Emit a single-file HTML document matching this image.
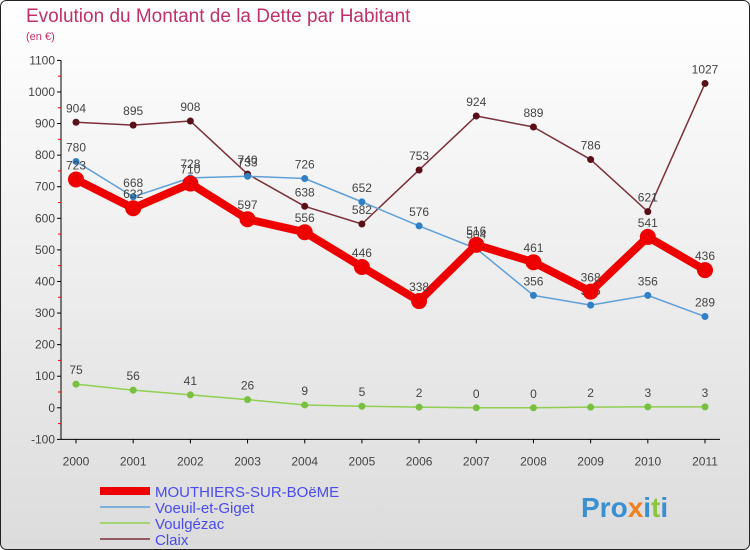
<!DOCTYPE html>
<html><head><meta charset="utf-8"><style>
html,body{margin:0;padding:0;width:750px;height:550px;overflow:hidden;font-family:"Liberation Sans","DejaVu Sans",sans-serif;}
</style></head><body>
<svg id="chart" width="750" height="550" xmlns="http://www.w3.org/2000/svg">
<defs><linearGradient id="bg" x1="0" y1="0" x2="0" y2="1"><stop offset="0" stop-color="#ffffff"/><stop offset="1" stop-color="#dcdcdc"/></linearGradient></defs>
<rect x="0.5" y="0.5" width="749" height="549" rx="6" fill="url(#bg)" stroke="#222"/>
<text x="26" y="22" font-size="19" fill="#c0306a">Evolution du Montant de la Dette par Habitant</text>
<text x="26" y="40" font-size="11" fill="#c0306a">(en €)</text>
<g id="axes"></g><g id="series"></g><g id="legend"></g>
<text x="581" y="517" font-size="28" font-weight="bold" fill="#3a8fd0">Pro<tspan fill="#f08020">x</tspan>i<tspan fill="#8cc63f">t</tspan>i</text>
</svg>
<script>
const years=["2000","2001","2002","2003","2004","2005","2006","2007","2008","2009","2010","2011"];
const yTicks=[-100,0,100,200,300,400,500,600,700,800,900,1000,1100];
const seriesNames=["MOUTHIERS-SUR-BOëME","Voeuil-et-Giget","Voulgézac","Claix"];
const mouthiers=[723,632,710,597,556,446,338,516,461,368,541,436];
const voeuil=[780,668,728,733,726,652,576,504,356,325,356,289];
const voulgezac=[75,56,41,26,9,5,2,0,0,2,3,3];
const claix=[904,895,908,740,638,582,753,924,889,786,621,1027];
const NS="http://www.w3.org/2000/svg";
const X=i=>76+i*(705-76)/11;
const Y=v=>407.8-v*(379/1200);
function mk(tag,attrs,parent){const e=document.createElementNS(NS,tag);for(const k in attrs)e.setAttribute(k,attrs[k]);parent.appendChild(e);return e;}
const ax=document.getElementById('axes');
let yl=mk('line',{x1:61,y1:Y(1100),x2:61,y2:Y(-100),stroke:'#000'},ax);


let xl=mk('line',{x1:61,y1:Y(-100),x2:720,y2:Y(-100),stroke:'#000'},ax);


yTicks.forEach(t=>{
 mk('line',{x1:57,x2:61,y1:Y(t),y2:Y(t),stroke:'#000'},ax);
 if(t<1100) mk('line',{x1:58,x2:61,y1:Y(t+50),y2:Y(t+50),stroke:'#e00'},ax);
 const tx=mk('text',{x:55,y:Y(t)+4,'font-size':12,'text-anchor':'end',fill:'#444'},ax);
 tx.textContent=t;
 
 
});
years.forEach((y,i)=>{
 mk('line',{x1:X(i),x2:X(i),y1:Y(-100),y2:Y(-100)+4,stroke:'#000'},ax);
 const tx=mk('text',{x:X(i),y:Y(-100)+26,'font-size':12,'text-anchor':'middle',fill:'#444'},ax);
 tx.textContent=y;
 
 
});
const sg=document.getElementById('series');
const defs=[[voulgezac,'#8fd050','#78c040',1.5,3.5],[claix,'#7a3038','#5a1018',1.5,3.5],[voeuil,'#60a0d8','#3080c8',1.5,3.5],[mouthiers,'#ee0000','#ee0000',8,8]];
const nameKeys=['voulgezac','claix','voeuil','mouthiers'];
defs.forEach((d,si)=>{
 const [vals,col,dot,w,r]=d;
 const p=mk('polyline',{points:vals.map((v,i)=>X(i)+','+Y(v)).join(' '),fill:'none',stroke:col,'stroke-width':w,'stroke-linejoin':'round'},sg);
 
 
 vals.forEach((v,i)=>{
  const c=mk('circle',{cx:X(i),cy:Y(v),r:r,fill:dot},sg);
  
  
  const t=mk('text',{x:X(i),y:Y(v)-10,'font-size':12,'text-anchor':'middle',fill:'#444'},sg);
  t.textContent=v;
  
  
 });
});
const lg=document.getElementById('legend');
const lcols=['#ee0000','#60a0d8','#8fd050','#7a3038'];
const lw=[8,1.5,1.5,1.5];
seriesNames.forEach((n,i)=>{
 const yy=491+i*16;
 const l=mk('line',{x1:100,x2:150,y1:yy,y2:yy,stroke:lcols[i],'stroke-width':lw[i]},lg);
 
 
 const t=mk('text',{x:155,y:yy+6,'font-size':15,fill:'#4a4aee'},lg);
 t.textContent=n;
 
 
});
</script>
</body></html>
